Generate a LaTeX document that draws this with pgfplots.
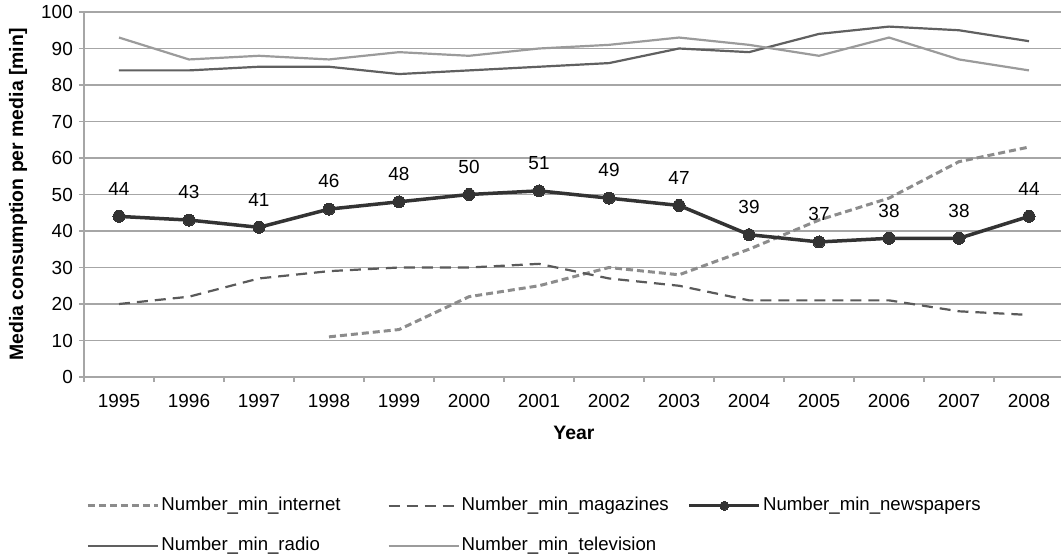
\documentclass[border=0pt]{standalone}
\usepackage{pgfplots}
\pgfplotsset{compat=1.18}
\usepackage{fontspec}
\setmainfont{Liberation Sans}
\definecolor{gridc}{HTML}{A6A6A6}
\definecolor{cnews}{HTML}{333333}
\definecolor{cradio}{HTML}{606060}
\definecolor{ctv}{HTML}{9B9B9B}
\definecolor{cnet}{HTML}{8C8C8C}
\definecolor{cmag}{HTML}{5A5A5A}
\begin{document}
\begin{tikzpicture}
\useasboundingbox (-84bp,-180bp) rectangle (977bp,377bp);
\begin{axis}[
  at={(0,0)}, anchor=south west,
  scale only axis, width=976.5bp, height=365bp,
  xmin=-0.5, xmax=13.45, ymin=0, ymax=100,
  axis lines*=left,
  axis line style={gridc, line width=1.2bp},
  xtick={0,...,13},
  xticklabels={1995,1996,1997,1998,1999,2000,2001,2002,2003,2004,2005,2006,2007,2008},
  minor xtick={-0.5,0.5,...,13},
  major x tick style={draw=none},
  minor x tick style={gridc, line width=1.2bp},
  ytick={0,10,...,100},
  y tick style={gridc, line width=1.2bp},
  tick align=outside,
  major tick length=5bp, minor tick length=5bp,
  ymajorgrids, grid style={gridc, line width=1.2bp},
  /pgf/number format/assume math mode=true,
  tick label style={font=\fontsize{19}{22}\selectfont, inner sep=0pt},
  xticklabel style={yshift=-12bp},
  yticklabel style={xshift=-6bp},
  xlabel={Year},
  ylabel={Media consumption per media [min]},
  xlabel style={at={(axis cs:6.5,0)}, anchor=center, yshift=-56bp, font=\bfseries\fontsize{19.5}{22}\selectfont},
  ylabel style={at={(axis description cs:-0.0676,0.5)}, anchor=center, rotate=0, font=\bfseries\fontsize{19.5}{22}\selectfont},
  legend columns=3,
  legend cell align=left,
  legend image code/.code={\draw[mark repeat=2,mark phase=2,#1] plot coordinates {(0bp,0bp) (35bp,0bp) (70bp,0bp)};},
  legend style={at={(axis description cs:0,0)}, anchor=north west, xshift=2.5bp, yshift=-118bp,
    draw=none, fill=none, inner sep=0pt, outer sep=0pt, row sep=19bp,
    font=\fontsize{18.7}{22}\selectfont,
    nodes={text height=13.5bp, text depth=4bp}},
]
\addplot[cnet, line width=3bp, dash pattern=on 7bp off 4bp] coordinates {
(3,11) (4,13) (5,22) (6,25) (7,30) (8,28) (9,35) (10,43) (11,49) (12,59) (13,63)};
\addlegendentry{\makebox[224bp][l]{Number\_min\_internet}}
\addplot[cmag, line width=2.2bp, dash pattern=on 11bp off 7bp] coordinates {
(0,20) (1,22) (2,27) (3,29) (4,30) (5,30) (6,31) (7,27) (8,25) (9,21) (10,21) (11,21) (12,18) (13,17)};
\addlegendentry{\makebox[224bp][l]{Number\_min\_magazines}}
\addplot[cnews, line width=3.5bp, mark=*, mark size=6bp, mark options={fill=cnews, draw=cnews, line width=0bp},
  legend image post style={mark size=4.5bp},
  nodes near coords, point meta=explicit symbolic,
  every node near coord/.append style={black, font=\fontsize{19}{22}\selectfont, inner sep=0pt, yshift=21bp, anchor=south}] coordinates {
(0,44) [44] (1,43) [43] (2,41) [41] (3,46) [46] (4,48) [48] (5,50) [50] (6,51) [51] (7,49) [49] (8,47) [47] (9,39) [39] (10,37) [37] (11,38) [38] (12,38) [38] (13,44) [44]};
\addlegendentry{\makebox[224bp][l]{Number\_min\_newspapers}}
\addplot[cradio, line width=2.2bp] coordinates {
(0,84) (1,84) (2,85) (3,85) (4,83) (5,84) (6,85) (7,86) (8,90) (9,89) (10,94) (11,96) (12,95) (13,92)};
\addlegendentry{\makebox[224bp][l]{Number\_min\_radio}}
\addplot[ctv, line width=2.2bp] coordinates {
(0,93) (1,87) (2,88) (3,87) (4,89) (5,88) (6,90) (7,91) (8,93) (9,91) (10,88) (11,93) (12,87) (13,84)};
\addlegendentry{\makebox[224bp][l]{Number\_min\_television}}
\end{axis}
\end{tikzpicture}
\end{document}
